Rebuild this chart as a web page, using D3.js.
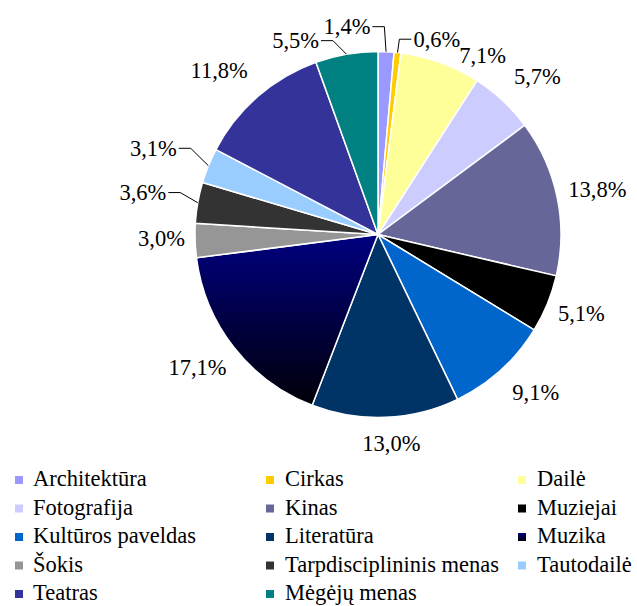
<!DOCTYPE html>
<html>
<head>
<meta charset="utf-8">
<script src="https://cdn.jsdelivr.net/npm/d3@7"></script>
<style>
  body { margin: 0; background: #fff; }
</style>
</head>
<body>
<div id="chart"></div>
<script>
// shares of projects by field (%), clockwise from 12 o'clock
const categories = ["Architektūra", "Cirkas", "Dailė", "Fotografija", "Kinas", "Muziejai",
    "Kultūros paveldas", "Literatūra", "Muzika", "Šokis", "Tarpdisciplininis menas",
    "Tautodailė", "Teatras", "Mėgėjų menas"];
const shares = [1.4, 0.6, 7.1, 5.7, 13.8, 5.1, 9.1, 13.0, 17.1, 3.0, 3.6, 3.1, 11.8, 5.5];
const colors = ["#9999ff", "#ffcc00", "#ffff99", "#ccccff", "#666699", "#000000",
    "#0066cc", "#003366", "url(#muzikaGrad)", "#969696", "#333333", "#99ccff", "#333399", "#008080"];

// label tweaks (Excel moved some labels around small slices)
const labelNudge = [[-40, -5], [37, 8], [33, 18], [12, 0], [0, 1], [1, -4], [13, -2],
    [5, 6], [-6, -4], [1, -3], [-20, -4], [-22, -4], [-15, 1], [-47, 9]];
const hasLeader = [true, true, false, false, false, false, false,
    false, false, false, true, true, false, true];

const width = 637, height = 606;
const cx = 378, cy = 234.5, r = 183;
const fontSize = 22.5;
const font = '"Liberation Serif"';

const svg = d3.select("#chart")
    .append("svg")
    .attr("width", width)
    .attr("height", height);

const grad = svg.append("defs").append("linearGradient")
    .attr("id", "muzikaGrad")
    .attr("x1", 0).attr("y1", 0).attr("x2", 0).attr("y2", 1);
grad.append("stop").attr("offset", "0%").attr("stop-color", "#000080");
grad.append("stop").attr("offset", "100%").attr("stop-color", "#000008");

const pie = d3.pie().sort(null).value(d => d);
const arcs = pie(shares);
const arc = d3.arc().innerRadius(0).outerRadius(r);

const g = svg.append("g").attr("transform", `translate(${cx},${cy})`);

g.selectAll("path")
    .data(arcs)
    .enter()
    .append("path")
    .attr("d", arc)
    .attr("fill", (d, i) => colors[i])
    .attr("stroke", "#fff")
    .attr("stroke-width", 1.5);

const fmt = v => d3.format(".1f")(v).replace(".", ",") + "%";

arcs.forEach((d, i) => {
    const mid = (d.startAngle + d.endAngle) / 2;
    const ux = Math.sin(mid), uy = -Math.cos(mid);
    const t = g.append("text")
        .attr("text-anchor", "middle")
        .style("font-family", font)
        .style("font-size", fontSize + "px")
        .text(fmt(shares[i]));
    const hw = t.node().getComputedTextLength() / 2, hh = 8;
    const dist = r + 11 + hw * Math.abs(ux) + hh * Math.abs(uy);
    const lx = ux * dist + labelNudge[i][0];
    const ly = uy * dist + labelNudge[i][1];
    t.attr("x", lx).attr("y", ly + 0.34 * fontSize);

    if (hasLeader[i]) {
        const px = ux * r, py = uy * r;
        const side = lx < px ? 1 : -1;
        const sx = lx + side * (hw + 2);
        const ex = sx + side * 12;
        g.append("polyline")
            .attr("points", `${sx},${ly} ${ex},${ly} ${px},${py}`)
            .attr("fill", "none")
            .attr("stroke", "#000")
            .attr("stroke-width", 1);
    }
});

// legend, 3 columns
const colX = [15, 266, 518];
const rowY = 480, rowStep = 28.5;

const legend = svg.append("g");
categories.forEach((c, i) => {
    const x = colX[i % 3];
    const y = rowY + Math.floor(i / 3) * rowStep;
    legend.append("rect")
        .attr("x", x).attr("y", y - 4)
        .attr("width", 8).attr("height", 8)
        .attr("fill", colors[i]);
    legend.append("text")
        .attr("x", x + (i % 3 === 0 ? 18 : 19))
        .attr("y", y + 6)
        .style("font-family", font)
        .style("font-size", fontSize + "px")
        .text(c);
});
</script>
</body>
</html>
